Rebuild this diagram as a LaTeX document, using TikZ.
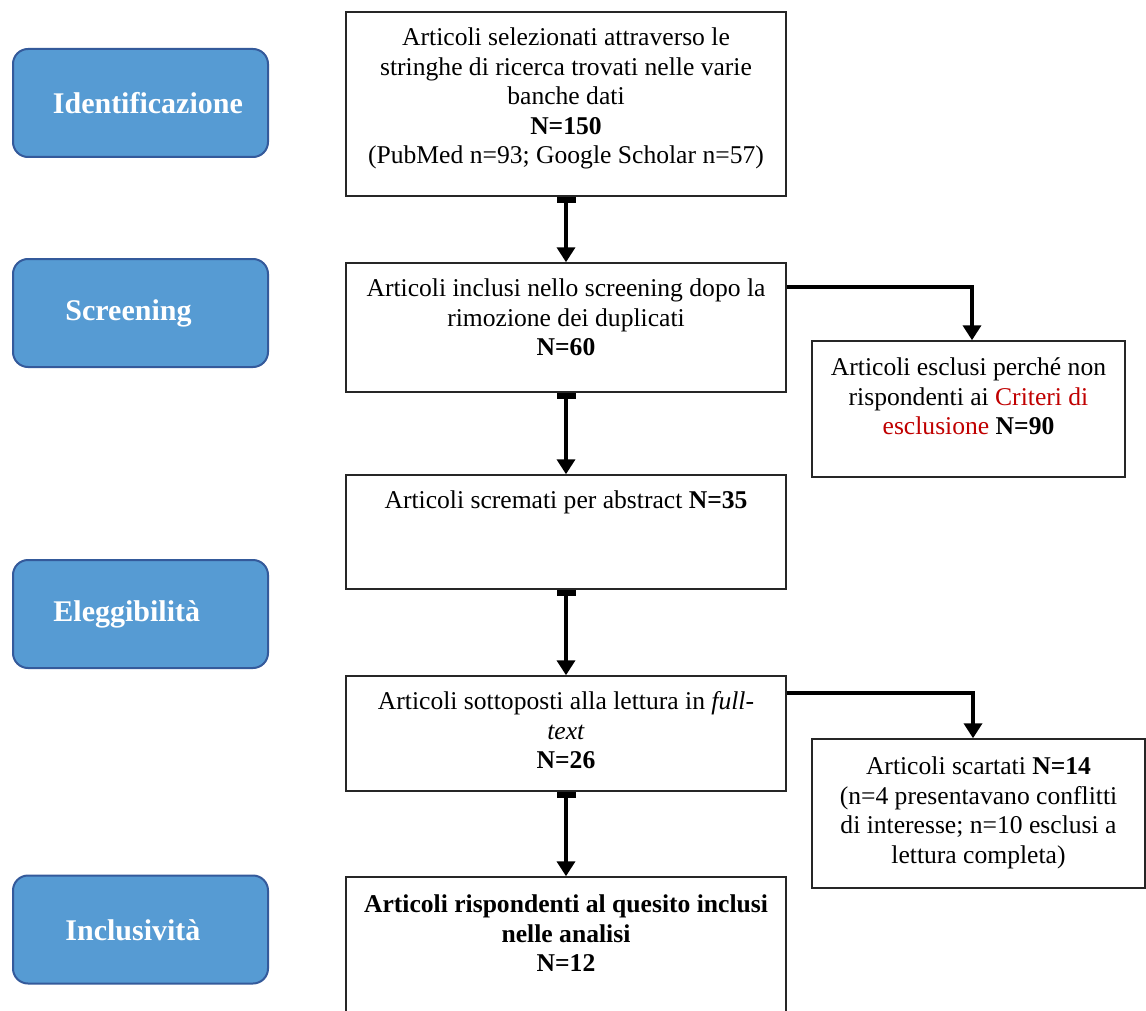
\documentclass[tikz,border=0pt]{standalone}
\usepackage{fontspec}
\setmainfont{Liberation Serif}
\usetikzlibrary{arrows.meta}
\definecolor{lblfill}{RGB}{86,155,211}
\definecolor{lbldraw}{RGB}{52,90,155}
\definecolor{critred}{RGB}{192,0,0}
\begin{document}
\begin{tikzpicture}[x=0.5pt,y=-0.5pt,
  mainbox/.style={draw=black!85, line width=0.75pt, minimum width=220pt, inner sep=0pt},
  sidebox/.style={draw=black!85, line width=0.75pt, inner sep=0pt},
  boxtext/.style={anchor=north, inner sep=0pt, align=center, font=\fontsize{12.8pt}{14.8pt}\selectfont},
  phase/.style={draw=lbldraw, line width=1pt, fill=lblfill, rounded corners=7.5pt, minimum width=127.5pt, minimum height=54pt, inner sep=0pt},
  phasetext/.style={anchor=west, inner sep=0pt, text=white, font=\fontsize{15pt}{18pt}\selectfont\bfseries, text height=10pt, text depth=0pt},
  mainarrow/.style={line width=2pt, {Rectangle[width=9.5pt,length=3pt]}-{Triangle[width=9pt,length=7.5pt]}},
  sidearrow/.style={line width=2pt, -{Triangle[width=9pt,length=7.5pt]}}
]
\useasboundingbox (0,0) rectangle (1146,1011);
\clip (0,0) rectangle (1146,1011);
\fill[white] (0,0) rectangle (1146,1011);

% phase labels
\node[phase] (p1) at (140.5,103) {};
\node[phasetext] (t1) at (52.5,104) {Identificazione};
\node[phase] (p2) at (140.5,313) {};
\node[phasetext] (t2) at (65,310) {Screening};
\node[phase] (p3) at (140.5,614) {};
\node[phasetext] (t3) at (53,611) {Eleggibilità};
\node[phase] (p4) at (140.5,929.5) {};
\node[phasetext] (t4) at (65,930) {Inclusività};

% main boxes
\node[mainbox, minimum height=92pt] (b1) at (566,104) {};
\node[boxtext] (tb1) at ([yshift=-8pt]b1.north) {Articoli selezionati attraverso le\\ stringhe di ricerca trovati nelle varie\\ banche dati\\ \textbf{N=150}\\ (PubMed n=93; Google Scholar n=57)};

\node[mainbox, minimum height=64.5pt] (b2) at (566,327.5) {};
\node[boxtext] (tb2) at ([yshift=-8pt]b2.north) {Articoli inclusi nello screening dopo la\\ rimozione dei duplicati\\ \textbf{N=60}};

\node[mainbox, minimum height=57pt] (b3) at (566,532) {};
\node[boxtext] (tb3) at ([yshift=-8pt]b3.north) {Articoli scremati per abstract \textbf{N=35}};

\node[mainbox, minimum height=57.5pt] (b4) at (566,733.5) {};
\node[boxtext] (tb4) at ([yshift=-8pt]b4.north) {Articoli sottoposti alla lettura in \textit{full-}\\ \textit{text}\\ \textbf{N=26}};

\node[mainbox, minimum height=76.5pt] (b5) at (566,953.5) {};
\node[boxtext, font=\fontsize{12.8pt}{14.8pt}\selectfont\bfseries] (tb5) at ([yshift=-9pt]b5.north) {Articoli rispondenti al quesito inclusi\\ nelle analisi\\ N=12};

% side boxes
\node[sidebox, minimum width=156.5pt, minimum height=68pt] (s1) at (968.5,409) {};
\node[boxtext] (ts1) at ([yshift=-8.5pt]s1.north) {Articoli esclusi perché non\\ rispondenti ai \textcolor{critred}{Criteri di}\\ \textcolor{critred}{esclusione} \textbf{N=90}};

\node[sidebox, minimum width=166.5pt, minimum height=74.5pt] (s2) at (978.5,813.5) {};
\node[boxtext] (ts2) at ([yshift=-9pt]s2.north) {Articoli scartati \textbf{N=14}\\ (n=4 presentavano conflitti\\ di interesse; n=10 esclusi a\\ lettura completa)};

% connectors
\draw[mainarrow] (b1.south) -- (b2.north);
\draw[mainarrow] (b2.south) -- (b3.north);
\draw[mainarrow] (b3.south) -- (b4.north);
\draw[mainarrow] (b4.south) -- (b5.north);
\draw[sidearrow] ([yshift=-12.5pt]b2.north east) -| ([xshift=1.75pt]s1.north);
\draw[sidearrow] ([yshift=-9pt]b4.north east) -| ([xshift=-2.75pt]s2.north);
\end{tikzpicture}
\end{document}
